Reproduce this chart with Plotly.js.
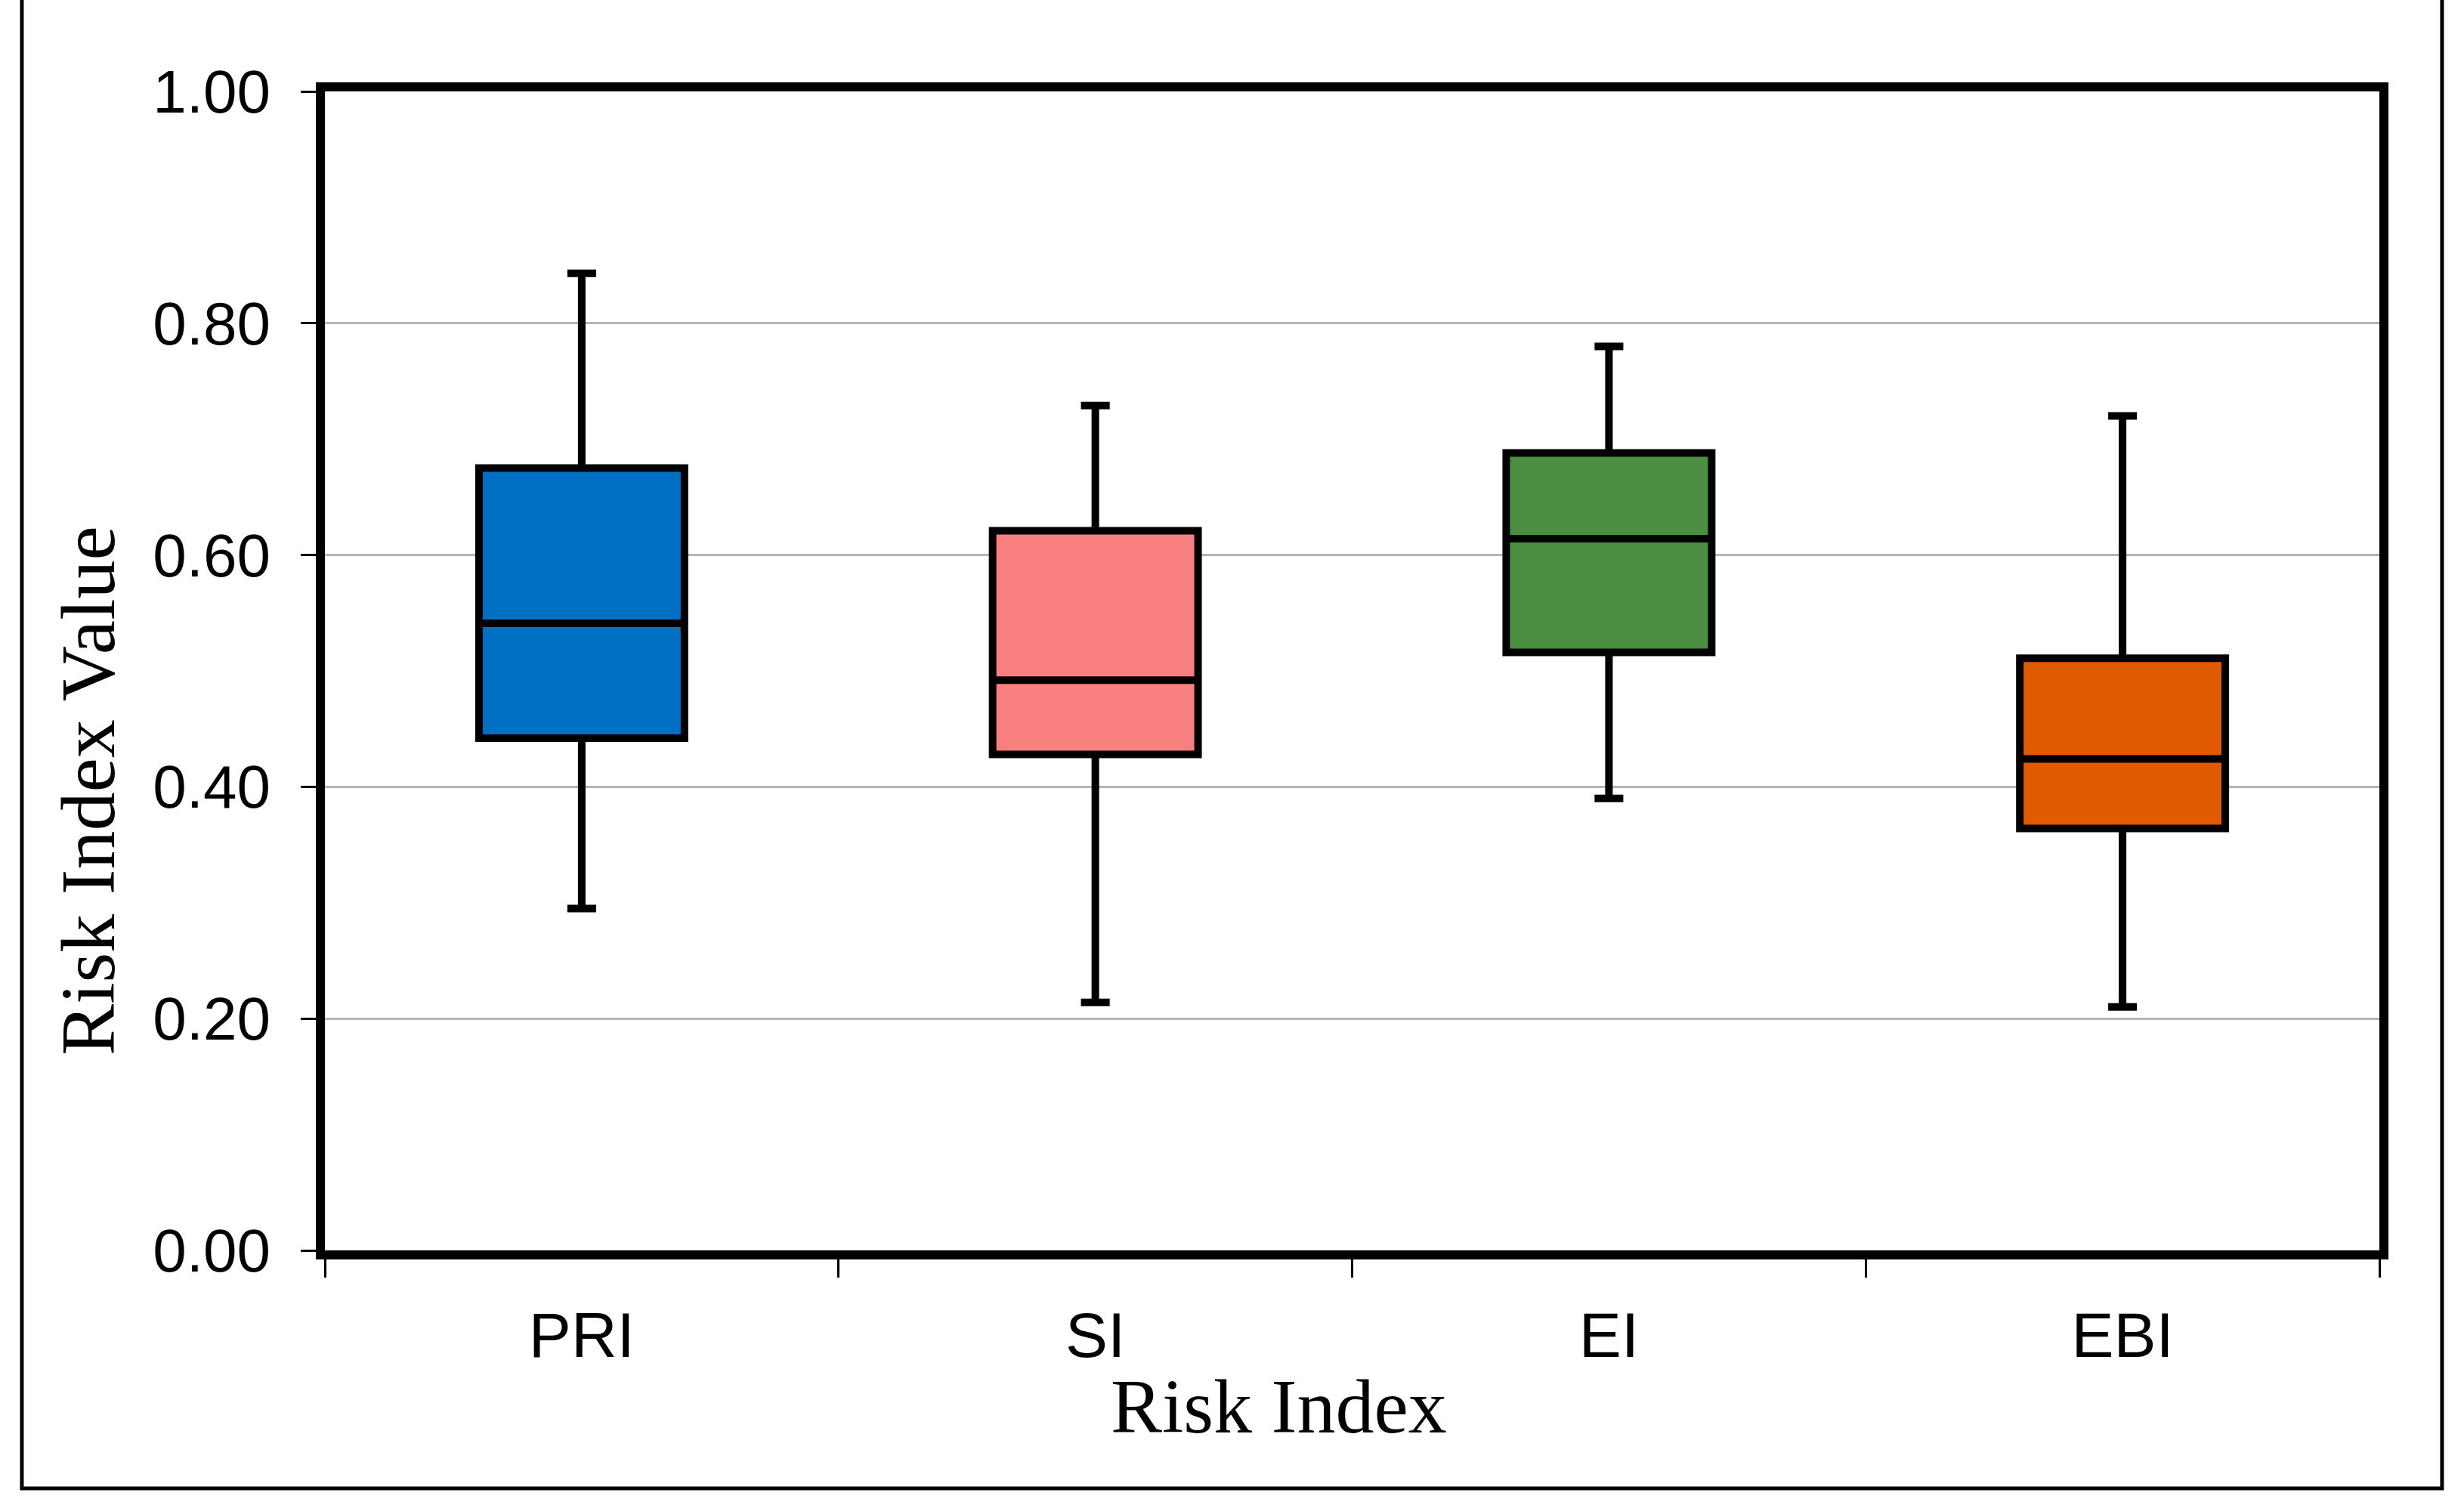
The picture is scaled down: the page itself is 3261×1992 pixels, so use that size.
<!DOCTYPE html>
<html>
<head>
<meta charset="utf-8">
<script src="https://cdn.plot.ly/plotly-3.0.1.min.js"></script>
<style>
html,body{margin:0;padding:0;background:#fff;}
#chart{width:3261px;height:1992px;}
</style>
</head>
<body>
<div id="chart"></div>
<script>
const categories = ["PRI", "SI", "EI", "EBI"];
const lowerWhisker = [0.295, 0.214, 0.390, 0.210];
const q1Values = [0.442, 0.428, 0.516, 0.364];
const medianValues = [0.541, 0.492, 0.614, 0.424];
const q3Values = [0.675, 0.621, 0.688, 0.511];
const upperWhisker = [0.843, 0.729, 0.780, 0.720];
const boxColors = ["#0070C4", "#F88080", "#4A8E42", "#E05A00"];
const yTickValues = [0, 0.2, 0.4, 0.6, 0.8, 1.0];
const xTitle = "Risk Index";
const yTitle = "Risk Index Value";

const traces = categories.map((c, i) => ({
  type: "box",
  name: c,
  x: [c],
  q1: [q1Values[i]],
  median: [medianValues[i]],
  q3: [q3Values[i]],
  lowerfence: [lowerWhisker[i]],
  upperfence: [upperWhisker[i]],
  fillcolor: boxColors[i],
  line: {color: "#000000", width: 10},
  width: 0.4,
  whiskerwidth: 0.14,
  boxpoints: false,
  showlegend: false,
  hoverinfo: "skip"
}));

const titleFont = {family: "Liberation Serif, Times New Roman, serif", size: 102, color: "#000000"};

const layout = {
  width: 3261,
  height: 1992,
  margin: {l: 430, r: 112, t: 121, b: 337},
  paper_bgcolor: "#ffffff",
  plot_bgcolor: "#ffffff",
  showlegend: false,
  boxmode: "overlay",
  font: {family: "Liberation Sans, Arial, sans-serif", color: "#000000"},
  xaxis: {
    type: "category",
    categoryorder: "array",
    categoryarray: categories,
    range: [-0.5, 3.5],
    tickson: "boundaries",
    ticks: "outside",
    ticklen: 24,
    tickwidth: 3,
    tickcolor: "#000000",
    showline: true,
    linecolor: "#000000",
    linewidth: 12,
    mirror: true,
    showgrid: false,
    zeroline: false,
    tickfont: {family: "Liberation Sans, Arial, sans-serif", size: 84, color: "#000000"},
    ticklabelstandoff: 28
  },
  yaxis: {
    range: [0, 1],
    tickvals: yTickValues,
    tickformat: ".2f",
    ticks: "outside",
    ticklen: 20,
    tickwidth: 3,
    tickcolor: "#000000",
    showline: true,
    linecolor: "#000000",
    linewidth: 12,
    mirror: true,
    showgrid: true,
    gridcolor: "#b4b4b4",
    gridwidth: 3,
    zeroline: false,
    tickfont: {family: "Liberation Sans, Arial, sans-serif", size: 80, color: "#000000"},
    ticklabelstandoff: 24
  },
  annotations: [
    {
      text: xTitle, xref: "paper", yref: "paper",
      x: 0.4645, y: -0.1343, xanchor: "center", yanchor: "middle",
      showarrow: false, font: titleFont
    },
    {
      text: yTitle, xref: "paper", yref: "paper",
      x: -0.1155, y: 0.397, xanchor: "center", yanchor: "middle",
      textangle: -90, showarrow: false, font: titleFont
    }
  ],
  shapes: [{
    type: "rect",
    xref: "paper", yref: "paper",
    x0: -0.1475, x1: 1.0305,
    y0: -0.2053, y1: 1.0854,
    line: {color: "#000000", width: 5},
    fillcolor: "rgba(0,0,0,0)",
    layer: "below"
  }]
};

Plotly.newPlot("chart", traces, layout, {displayModeBar: false, staticPlot: true});
</script>
</body>
</html>
